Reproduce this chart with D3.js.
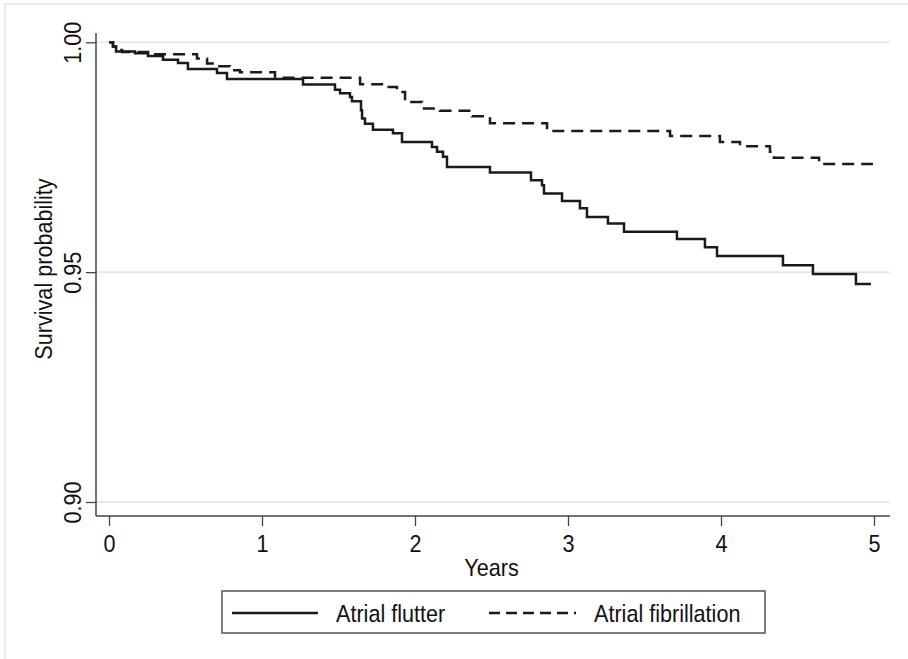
<!DOCTYPE html>
<html>
<head>
<meta charset="utf-8">
<script src="https://cdn.jsdelivr.net/npm/d3@7"></script>
<style>
  body { margin: 0; background: #fff; }
  text { font-family: "Liberation Sans", Arial, sans-serif; fill: #111; }
</style>
</head>
<body>
<div class="chart"></div>
<script>
"use strict";

// Kaplan-Meier steps (time in years, survival)
const flutterTime = [0, 0.026, 0.046, 0.170, 0.255, 0.353, 0.451, 0.516, 0.706, 0.771, 1.268, 1.477, 1.510, 1.575, 1.588, 1.647, 1.654, 1.673, 1.725, 1.856, 1.915, 2.111, 2.144, 2.183, 2.209, 2.490, 2.758, 2.830, 2.843, 2.961, 3.078, 3.124, 3.261, 3.366, 3.712, 3.895, 3.974, 4.405, 4.601, 4.882, 4.980];
const flutterSurv = [1.000, 0.9991, 0.9980, 0.9976, 0.9970, 0.9962, 0.9955, 0.9942, 0.9933, 0.9920, 0.9908, 0.9897, 0.9889, 0.9881, 0.9872, 0.9852, 0.9834, 0.9823, 0.9810, 0.9802, 0.9783, 0.9772, 0.9762, 0.9751, 0.9729, 0.9717, 0.9700, 0.9689, 0.9671, 0.9655, 0.9639, 0.9620, 0.9606, 0.9588, 0.9572, 0.9554, 0.9535, 0.9515, 0.9496, 0.9474, 0.9474];

const fibTime = [0, 0.026, 0.046, 0.085, 0.288, 0.575, 0.641, 0.712, 0.791, 0.856, 1.085, 1.641, 1.817, 1.882, 1.935, 2.046, 2.163, 2.373, 2.490, 2.863, 3.667, 3.993, 4.124, 4.320, 4.346, 4.641, 4.993];
const fibSurv = [1.000, 0.9991, 0.9983, 0.9979, 0.9974, 0.9965, 0.9954, 0.9948, 0.9939, 0.9935, 0.9923, 0.9909, 0.9903, 0.9892, 0.9870, 0.9856, 0.9851, 0.9839, 0.9824, 0.9807, 0.9796, 0.9783, 0.9774, 0.9762, 0.9749, 0.9735, 0.9735];

const xTicks = [0, 1, 2, 3, 4, 5];
const yTicks = [0.90, 0.95, 1.00];
const seriesNames = ["Atrial flutter", "Atrial fibrillation"];

const width = 908;
const height = 659;
const fontSize = "24px";
const squeeze = "scale(0.9, 1)"; // text in the picture is a bit narrow

const svg = d3.select(".chart")
  .append("svg")
    .attr("width", width)
    .attr("height", height);

// faint outer frame (only top/left visible in the picture)
svg.append("rect")
  .attr("x", 5)
  .attr("y", 4)
  .attr("width", 920)
  .attr("height", 680)
  .attr("fill", "none")
  .attr("stroke", "#e6e6e6")
  .attr("stroke-width", 1.5);

const xScale = d3.scaleLinear()
  .domain([0, 5])
  .range([109, 874]);

const yScale = d3.scaleLinear()
  .domain([0.90, 1.00])
  .range([502, 42.3]);

const plotLeft = 96;
const plotRight = 890;
const plotBottom = 516;
const plotTop = 33;

// horizontal grid lines
svg.append("g")
  .selectAll("line")
  .data(yTicks)
  .join("line")
    .attr("x1", plotLeft)
    .attr("x2", plotRight)
    .attr("y1", d => yScale(d))
    .attr("y2", d => yScale(d))
    .attr("stroke", "#e8e8e8")
    .attr("stroke-width", 2);

// Y axis
const yAxis = d3.axisLeft(yScale)
  .tickValues(yTicks)
  .tickFormat(d3.format(".2f"))
  .tickSize(10)
  .tickSizeOuter(0);

const gy = svg.append("g")
  .attr("transform", `translate(${plotLeft}, 0)`)
  .call(yAxis);
gy.select(".domain").remove();
gy.selectAll(".tick line").attr("stroke", "#444").attr("stroke-width", 1.3);
gy.selectAll(".tick text")
  .attr("x", 0)
  .attr("y", 0)
  .attr("dy", 0)
  .attr("text-anchor", "middle")
  .attr("transform", `translate(-15, 0) rotate(-90) ${squeeze}`)
  .style("font-size", fontSize)
  .attr("fill", "#111");

gy.append("line")
  .attr("x1", 0).attr("x2", 0)
  .attr("y1", plotTop).attr("y2", plotBottom)
  .attr("stroke", "#444")
  .attr("stroke-width", 1.5);

// X axis
const xAxis = d3.axisBottom(xScale)
  .tickValues(xTicks)
  .tickFormat(d3.format("d"))
  .tickSize(10)
  .tickSizeOuter(0)
  .tickPadding(9);

const gx = svg.append("g")
  .attr("transform", `translate(0, ${plotBottom})`)
  .call(xAxis);
gx.select(".domain").remove();
gx.selectAll(".tick line").attr("stroke", "#444").attr("stroke-width", 1.3);
gx.selectAll(".tick text")
  .attr("transform", squeeze)
  .style("font-size", fontSize)
  .attr("fill", "#111");

gx.append("line")
  .attr("x1", plotLeft).attr("x2", plotRight)
  .attr("y1", 0).attr("y2", 0)
  .attr("stroke", "#444")
  .attr("stroke-width", 1.5);

// axis titles
svg.append("text")
  .attr("transform", `translate(${(xScale(0) + xScale(5)) / 2}, 576) ${squeeze}`)
  .attr("text-anchor", "middle")
  .style("font-size", fontSize)
  .text("Years");

svg.append("text")
  .attr("transform", `translate(52, 269) rotate(-90) ${squeeze}`)
  .attr("text-anchor", "middle")
  .style("font-size", fontSize)
  .text("Survival probability");

// survival curves
const line = d3.line()
  .x(d => xScale(d[0]))
  .y(d => yScale(d[1]))
  .curve(d3.curveStepAfter);

svg.append("path")
  .attr("d", line(d3.zip(flutterTime, flutterSurv)))
  .attr("fill", "none")
  .attr("stroke", "#1a1a1a")
  .attr("stroke-width", 2.5);

svg.append("path")
  .attr("d", line(d3.zip(fibTime, fibSurv)))
  .attr("fill", "none")
  .attr("stroke", "#1a1a1a")
  .attr("stroke-width", 2.5)
  .attr("stroke-dasharray", "12,7");

// legend
const legend = svg.append("g");
legend.append("rect")
  .attr("x", 222)
  .attr("y", 591)
  .attr("width", 543)
  .attr("height", 42)
  .attr("fill", "#fff")
  .attr("stroke", "#555")
  .attr("stroke-width", 1.5);

const legendItems = [
  { name: seriesNames[0], x1: 232, x2: 318, tx: 336, dash: null },
  { name: seriesNames[1], x1: 489, x2: 576, tx: 594, dash: "11,6" }
];

legend.selectAll("line")
  .data(legendItems)
  .join("line")
    .attr("x1", d => d.x1)
    .attr("x2", d => d.x2)
    .attr("y1", 613)
    .attr("y2", 613)
    .attr("stroke", "#1a1a1a")
    .attr("stroke-width", 2.5)
    .attr("stroke-dasharray", d => d.dash);

legend.selectAll("text")
  .data(legendItems)
  .join("text")
    .attr("transform", d => `translate(${d.tx}, 622) ${squeeze}`)
    .style("font-size", fontSize)
    .text(d => d.name);
</script>
</body>
</html>
